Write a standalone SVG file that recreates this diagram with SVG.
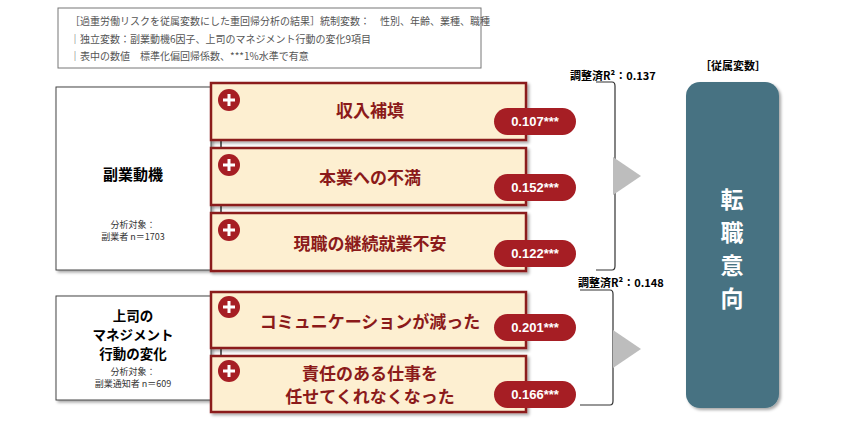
<svg xmlns="http://www.w3.org/2000/svg" width="846" height="430" viewBox="0 0 846 430">
<defs>
<style>
.t{font-family:"Noto Sans CJK JP","Liberation Sans",sans-serif}
.cb{fill:#fdefd1;stroke:#8b1a1a;stroke-width:2.5}
.ct{font-family:"Noto Sans CJK JP",sans-serif;font-weight:bold;font-size:17px;fill:#8b1a1a;text-anchor:middle}
.pill{fill:#a61e24}
.pt{font-family:"Liberation Sans","Noto Sans CJK JP",sans-serif;font-weight:bold;font-size:13px;fill:#fff;text-anchor:middle}
.lb{fill:#fff;stroke:#444;stroke-width:1}
.br{fill:none;stroke:#333;stroke-width:1.2}
</style>
<filter id="sh" x="-5%" y="-5%" width="110%" height="120%"><feDropShadow dx="2" dy="2" stdDeviation="1.5" flood-opacity="0.35"/></filter>
<g id="plus"><circle r="11" fill="#a61e24"/><path d="M-6 0H6M0 -6V6" stroke="#fff" stroke-width="3"/></g>
</defs>
<rect width="846" height="430" fill="#fff"/>
<g id="note">
<rect x="58" y="8" width="423" height="60" fill="#fff" stroke="#777"/>
<g class="t" font-size="10" fill="#555">
<text x="70" y="25">［過重労働リスクを従属変数にした重回帰分析の結果］統制変数：　性別、年齢、業種、職種</text>
<text x="70" y="43">｜独立変数：副業動機6因子、上司のマネジメント行動の変化9項目</text>
<text x="70" y="60">｜表中の数値　標準化偏回帰係数、***1%水準で有意</text>
</g>
</g>
<g id="connectors">
<line x1="221" y1="95" x2="221" y2="265" stroke="#333" stroke-width="1.5"/>
<line x1="210" y1="175" x2="221" y2="175" stroke="#333" stroke-width="1.5"/>
<line x1="221" y1="300" x2="221" y2="405" stroke="#333" stroke-width="1.5"/>
<path class="br" d="M596 82 H612 Q615 82 615 86 V266 Q615 270 612 270 H596"/>
<polygon points="613,157 641,176 613,195" fill="#bdbdbd"/>
<path class="br" d="M580 290 H610 Q613 290 613 294 V401 Q613 405 610 405 H580"/>
<polygon points="613,330 641,349 613,368" fill="#bdbdbd"/>
</g>
<g id="left1">
<rect class="lb" x="56" y="87" width="155" height="183" filter="url(#sh)"/>
<text class="t" x="133" y="180" font-size="15" font-weight="bold" text-anchor="middle">副業動機</text>
<text class="t" x="133" y="228" font-size="9" text-anchor="middle" fill="#333">分析対象：</text>
<text class="t" x="133" y="240" font-size="9" text-anchor="middle" fill="#333">副業者 n＝1703</text>
</g>
<g id="left2">
<rect class="lb" x="56" y="296" width="155" height="104" filter="url(#sh)"/>
<g class="t" font-size="13.5" font-weight="bold" text-anchor="middle">
<text x="133" y="321">上司の</text><text x="133" y="340">マネジメント</text><text x="133" y="359">行動の変化</text></g>
<text class="t" x="133" y="375" font-size="9" text-anchor="middle" fill="#333">分析対象：</text>
<text class="t" x="133" y="387" font-size="9" text-anchor="middle" fill="#333">副業通知者 n＝609</text>
</g>
<g id="n1"><rect class="cb" x="211" y="83" width="315" height="57" filter="url(#sh)"/><use href="#plus" x="229" y="100"/><text class="ct" x="370" y="117">収入補填</text><rect class="pill" x="494" y="108" width="82" height="27" rx="13.5"/><text class="pt" x="535" y="126">0.107***</text></g>
<g id="n2"><rect class="cb" x="211" y="148" width="315" height="57" filter="url(#sh)"/><use href="#plus" x="229" y="165"/><text class="ct" x="370" y="184">本業への不満</text><rect class="pill" x="494" y="174" width="82" height="27" rx="13.5"/><text class="pt" x="535" y="192">0.152***</text></g>
<g id="n3"><rect class="cb" x="211" y="213" width="315" height="58" filter="url(#sh)"/><use href="#plus" x="229" y="230"/><text class="ct" x="370" y="250">現職の継続就業不安</text><rect class="pill" x="494" y="240" width="82" height="27" rx="13.5"/><text class="pt" x="535" y="258">0.122***</text></g>
<g id="n4"><rect class="cb" x="211" y="292" width="315" height="56" filter="url(#sh)"/><use href="#plus" x="229" y="307"/><text class="ct" x="370" y="328" font-size="16">コミュニケーションが減った</text><rect class="pill" x="494" y="314" width="82" height="27" rx="13.5"/><text class="pt" x="535" y="332">0.201***</text></g>
<g id="n5"><rect class="cb" x="211" y="356" width="315" height="56" filter="url(#sh)"/><use href="#plus" x="229" y="371"/><text class="ct" x="370" y="380" font-size="15.5">責任のある仕事を</text><text class="ct" x="370" y="403" font-size="15.5">任せてくれなくなった</text><rect class="pill" x="494" y="381" width="82" height="27" rx="13.5"/><text class="pt" x="535" y="399">0.166***</text></g>
<g class="t" font-size="11" font-weight="bold">
<text x="570" y="80">調整済R²：0.137</text>
<text x="578" y="287">調整済R²：0.148</text>
<text x="733" y="70" text-anchor="middle">［従属変数］</text>
</g>
<g id="dep">
<rect x="686" y="82" width="93" height="326" rx="14" fill="#467282" filter="url(#sh)"/>
<g class="t" font-size="23" font-weight="bold" fill="#fff" text-anchor="middle">
<text x="732" y="208">転</text><text x="732" y="241">職</text><text x="732" y="274">意</text><text x="732" y="307">向</text></g>
</g>
</svg>
